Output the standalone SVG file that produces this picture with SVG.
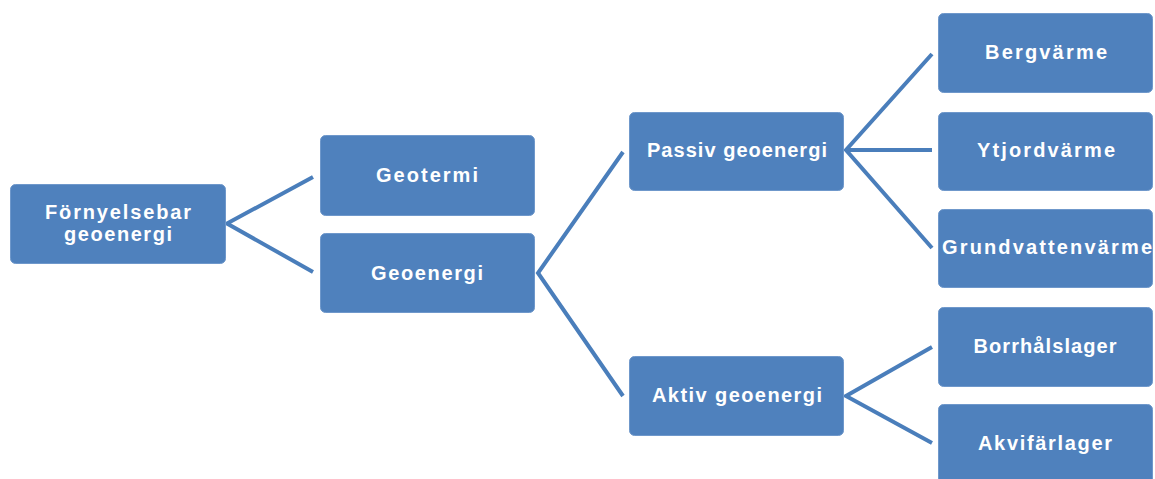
<svg xmlns="http://www.w3.org/2000/svg" width="1155" height="479" viewBox="0 0 1155 479">
<style>
.box{fill:#4F81BD;stroke:#6F98CB;stroke-width:1}
.t{font-family:"Liberation Sans",Arial,sans-serif;font-weight:bold;font-size:20px;fill:#FFFFFF;text-anchor:middle}
.c{fill:none;stroke:#4A7EBB;stroke-width:4;stroke-linejoin:miter;stroke-linecap:butt}
</style>
<rect width="1155" height="479" fill="#FFFFFF"/>
<g id="connectors">
<polyline class="c" points="313,177 227,223.5 313,272"/>
<polyline class="c" points="623,152 538,273 623,396"/>
<polyline class="c" points="932,54 846,150 932,248"/>
<line class="c" x1="846" y1="150" x2="932" y2="150"/>
<polyline class="c" points="932,347 846,396 932,443"/>
</g>
<g id="n-fornyelsebar">
<rect class="box" x="10.5" y="184.5" width="215" height="79" rx="5"/>
<text class="t" x="118" y="219" textLength="146" lengthAdjust="spacing">Förnyelsebar</text>
<text class="t" x="118" y="241" textLength="108" lengthAdjust="spacing">geoenergi</text>
</g>
<g id="n-geotermi">
<rect class="box" x="320.5" y="135.5" width="214" height="80" rx="5"/>
<text class="t" x="427" y="182" textLength="102" lengthAdjust="spacing">Geotermi</text>
</g>
<g id="n-geoenergi">
<rect class="box" x="320.5" y="233.5" width="214" height="79" rx="5"/>
<text class="t" x="427" y="280" textLength="112" lengthAdjust="spacing">Geoenergi</text>
</g>
<g id="n-passiv">
<rect class="box" x="629.5" y="112.5" width="214" height="78" rx="5"/>
<text class="t" x="737" y="157" textLength="180" lengthAdjust="spacing">Passiv geoenergi</text>
</g>
<g id="n-aktiv">
<rect class="box" x="629.5" y="356.5" width="214" height="79" rx="5"/>
<text class="t" x="737" y="402" textLength="170" lengthAdjust="spacing">Aktiv geoenergi</text>
</g>
<g id="n-bergvarme">
<rect class="box" x="938.5" y="13.5" width="214" height="79" rx="5"/>
<text class="t" x="1046" y="59" textLength="122" lengthAdjust="spacing">Bergvärme</text>
</g>
<g id="n-ytjordvarme">
<rect class="box" x="938.5" y="112.5" width="214" height="78" rx="5"/>
<text class="t" x="1046" y="157" textLength="138" lengthAdjust="spacing">Ytjordvärme</text>
</g>
<g id="n-grundvattenvarme">
<rect class="box" x="938.5" y="209.5" width="214" height="78" rx="5"/>
<text class="t" x="1047" y="254" textLength="210" lengthAdjust="spacing">Grundvattenvärme</text>
</g>
<g id="n-borrhalslager">
<rect class="box" x="938.5" y="307.5" width="214" height="79" rx="5"/>
<text class="t" x="1045" y="353" textLength="143" lengthAdjust="spacing">Borrhålslager</text>
</g>
<g id="n-akvifarlager">
<rect class="box" x="938.5" y="404.5" width="214" height="80" rx="5"/>
<text class="t" x="1045" y="450" textLength="134" lengthAdjust="spacing">Akvifärlager</text>
</g>
</svg>
